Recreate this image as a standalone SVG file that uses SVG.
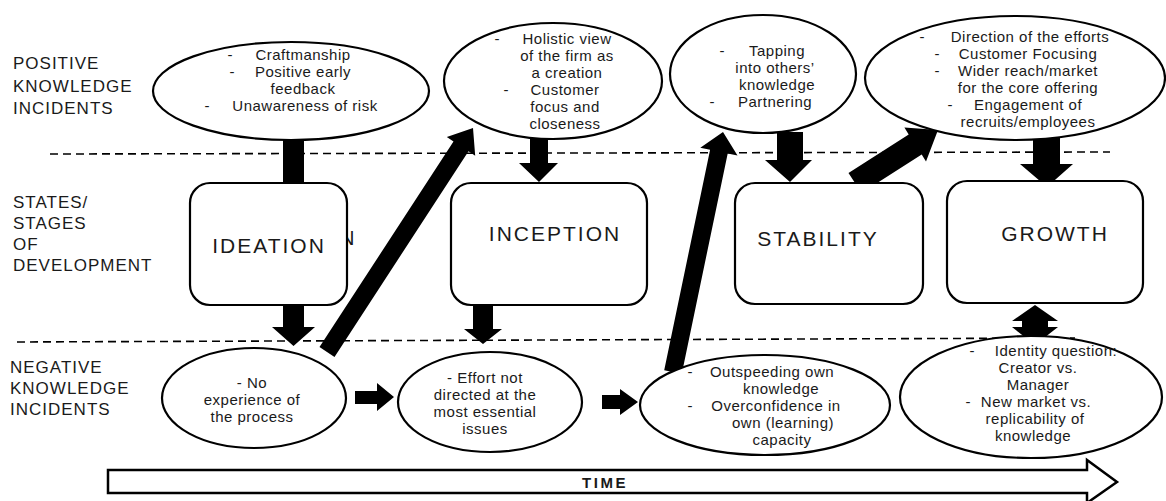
<svg xmlns="http://www.w3.org/2000/svg" width="1166" height="501" viewBox="0 0 1166 501">
<style>
.lbl{font-family:"Liberation Sans",Arial,sans-serif;font-size:17px;letter-spacing:1px;fill:#1a1a1a}
.stg{font-family:"Liberation Sans",Arial,sans-serif;font-size:21px;letter-spacing:2px;fill:#1a1a1a;text-anchor:middle}
.t{font-family:"Liberation Sans",Arial,sans-serif;font-size:15px;letter-spacing:0.5px;fill:#1a1a1a;text-anchor:middle}
.d{font-family:"Liberation Sans",Arial,sans-serif;font-size:15px;fill:#1a1a1a;text-anchor:middle}
.ell{fill:#fff;stroke:#000;stroke-width:2.2}
.box{fill:#fff;stroke:#000;stroke-width:2.2}
.dash{stroke:#000;stroke-width:1.6;stroke-dasharray:8 5;fill:none}
.arr{fill:#000}
</style>
<rect width="1166" height="501" fill="#fff"/>

<g id="labels">
<text class="lbl" x="13" y="69">POSITIVE</text>
<text class="lbl" x="13" y="92">KNOWLEDGE</text>
<text class="lbl" x="13" y="114">INCIDENTS</text>
<text class="lbl" x="13" y="208">STATES/</text>
<text class="lbl" x="13" y="229">STAGES</text>
<text class="lbl" x="13" y="250">OF</text>
<text class="lbl" x="13" y="271">DEVELOPMENT</text>
<text class="lbl" x="10" y="373">NEGATIVE</text>
<text class="lbl" x="10" y="394">KNOWLEDGE</text>
<text class="lbl" x="10" y="415">INCIDENTS</text>
</g>

<g id="dividers">
<line class="dash" x1="50" y1="154" x2="1110" y2="152"/>
<line class="dash" x1="17" y1="342" x2="1075" y2="338"/>
</g>

<g id="connectors">
<rect class="arr" x="283" y="138" width="21" height="46"/>
<polygon class="arr" points="283,304 304,304 304,327 315,327 293.5,346 272,327 283,327"/>
<polygon class="arr" points="530,137 548,137 548,163 558,163 539,182 519,163 530,163"/>
<polygon class="arr" points="473,304 493,304 493,329 502,329 483,344 464,329 473,329"/>
<polygon class="arr" points="777,132 803,132 803,160 812,160 790,182 765,160 777,160"/>
<polygon class="arr" points="1033,138 1060,138 1060,164 1073,164 1047,187 1020,164 1033,164"/>
<polygon class="arr" points="1035,305 1058,321 1048,321 1048,327 1058,327 1035,345 1012,327 1022,327 1022,321 1012,321"/>
<polygon class="arr" points="355,391 377,391 377,383 394,397 377,411 377,404 355,404"/>
<polygon class="arr" points="602,395 620,395 620,389 638,402 620,415 620,409 602,409"/>
<polygon class="arr" points="319.5,347.1 453.5,141.5 446.8,137.1 473,128 475.2,155.7 468.5,151.3 334.5,356.9"/>
<polygon class="arr" points="664.2,370.2 710.1,149.8 700.3,147.7 723,132 737.5,155.5 727.7,153.4 681.8,373.8"/>
<polygon class="arr" points="848.5,172.9 908.7,134.4 904.4,127.6 938,130 926,161.4 921.7,154.6 861.5,193.1"/>
</g>

<g id="ideation">
<text x="340" y="245" font-family="Liberation Sans, Arial, sans-serif" font-size="20" fill="#1a1a1a">N</text>
<rect class="box" x="190" y="183" width="157" height="122" rx="20"/>
<text class="stg" x="269" y="253">IDEATION</text>
</g>
<g id="inception">
<rect class="box" x="451" y="183" width="196" height="122" rx="20"/>
<text class="stg" x="555" y="241">INCEPTION</text>
</g>
<g id="stability">
<rect class="box" x="735" y="183" width="188" height="121" rx="20"/>
<text class="stg" x="818" y="246">STABILITY</text>
</g>
<g id="growth">
<rect class="box" x="947" y="181" width="196" height="122" rx="20"/>
<text class="stg" x="1055" y="241">GROWTH</text>
</g>

<g id="pos1">
<ellipse class="ell" cx="291" cy="91" rx="138" ry="49"/>
<text class="d" x="230" y="60">-</text><text class="t" x="303" y="60">Craftmanship</text>
<text class="d" x="232" y="77">-</text><text class="t" x="303" y="77">Positive early</text>
<text class="t" x="303" y="94">feedback</text>
<text class="d" x="207" y="111">-</text><text class="t" x="305" y="111">Unawareness of risk</text>
</g>
<g id="pos2">
<ellipse class="ell" cx="553" cy="81" rx="109" ry="58"/>
<text class="d" x="497" y="44">-</text><text class="t" x="567" y="44">Holistic view</text>
<text class="t" x="567" y="61">of the firm as</text>
<text class="t" x="567" y="78">a creation</text>
<text class="d" x="506" y="95">-</text><text class="t" x="565" y="95">Customer</text>
<text class="t" x="565" y="112">focus and</text>
<text class="t" x="565" y="129">closeness</text>
</g>
<g id="pos3">
<ellipse class="ell" cx="763" cy="74" rx="93" ry="59"/>
<text class="d" x="722" y="56">-</text><text class="t" x="777" y="56">Tapping</text>
<text class="t" x="775" y="73">into others’</text>
<text class="t" x="777" y="90">knowledge</text>
<text class="d" x="712" y="107">-</text><text class="t" x="775" y="107">Partnering</text>
</g>
<g id="pos4">
<ellipse class="ell" cx="1015" cy="78" rx="150" ry="62"/>
<text class="d" x="922" y="42">-</text><text class="t" x="1030" y="42">Direction of the efforts</text>
<text class="d" x="937" y="59">-</text><text class="t" x="1028" y="59">Customer Focusing</text>
<text class="d" x="937" y="76">-</text><text class="t" x="1028" y="76">Wider reach/market</text>
<text class="t" x="1028" y="93">for the core offering</text>
<text class="d" x="950" y="110">-</text><text class="t" x="1028" y="110">Engagement of</text>
<text class="t" x="1028" y="127">recruits/employees</text>
</g>

<g id="neg1">
<ellipse class="ell" cx="254" cy="398" rx="92" ry="50"/>
<text class="t" x="252" y="388">- No</text>
<text class="t" x="252" y="405">experience of</text>
<text class="t" x="252" y="422">the process</text>
</g>
<g id="neg2">
<ellipse class="ell" cx="490" cy="402" rx="92" ry="50"/>
<text class="t" x="485" y="383">- Effort not</text>
<text class="t" x="485" y="400">directed at the</text>
<text class="t" x="485" y="417">most essential</text>
<text class="t" x="485" y="434">issues</text>
</g>
<g id="neg3">
<ellipse class="ell" cx="765" cy="405" rx="125" ry="50"/>
<text class="d" x="690" y="377">-</text><text class="t" x="772" y="377">Outspeeding own</text>
<text class="t" x="781" y="394">knowledge</text>
<text class="d" x="690" y="411">-</text><text class="t" x="776" y="411">Overconfidence in</text>
<text class="t" x="783" y="428">own (learning)</text>
<text class="t" x="782" y="445">capacity</text>
</g>
<g id="neg4">
<ellipse class="ell" cx="1031" cy="397" rx="131" ry="61"/>
<text class="d" x="972" y="356">-</text><text class="t" x="1056" y="356">Identity question:</text>
<text class="t" x="1038" y="373">Creator vs.</text>
<text class="t" x="1038" y="390">Manager</text>
<text class="d" x="968" y="407">-</text><text class="t" x="1036" y="407">New market vs.</text>
<text class="t" x="1035" y="424">replicability of</text>
<text class="t" x="1033" y="441">knowledge</text>
</g>

<g id="time">
<polygon points="108,470 1087,470 1087,460 1117,482 1087,503 1087,493 108,493" fill="#fff" stroke="#000" stroke-width="2.5"/>
<text x="605" y="488" font-family="Liberation Sans, Arial, sans-serif" font-size="15" font-weight="bold" letter-spacing="2.5" text-anchor="middle" fill="#1a1a1a">TIME</text>
</g>
</svg>
